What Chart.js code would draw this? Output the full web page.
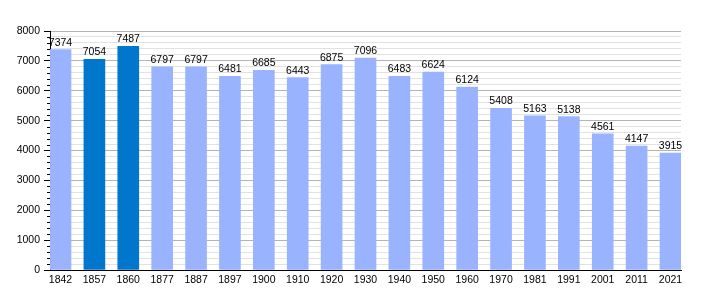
<!DOCTYPE html>
<html>
<head>
  <title>Population</title>
  <script src="https://cdn.jsdelivr.net/npm/chart.js@4"></script>
  <style>
    body {
      margin: 0;
      background: #fff;
    }
  </style>
</head>
<body>
  <canvas id="chart" width="710" height="300"></canvas>

  <script>
    const years = ['1842', '1857', '1860', '1877', '1887', '1897', '1900', '1910', '1920', '1930',
                   '1940', '1950', '1960', '1970', '1981', '1991', '2001', '2011', '2021'];
    const population = [7374, 7054, 7487, 6797, 6797, 6481, 6685, 6443, 6875, 7096,
                        6483, 6624, 6124, 5408, 5163, 5138, 4561, 4147, 3915];
    const highlighted = ['1857', '1860'];
    const yMax = 8000;
    const majorStep = 1000;
    const minorStep = 200;

    const lightBar = '#99b3ff';
    const darkBar = '#0077cc';

    // value written above each bar
    const valueLabels = {
      id: 'valueLabels',
      afterDatasetsDraw(chart) {
        const ctx = chart.ctx;
        const meta = chart.getDatasetMeta(0);
        ctx.save();
        ctx.font = '10.5px "Liberation Sans", Arial, sans-serif';
        ctx.fillStyle = '#000';
        ctx.textAlign = 'center';
        ctx.textBaseline = 'alphabetic';
        meta.data.forEach((bar, i) => {
          ctx.fillText(String(population[i]), bar.x, bar.y - 4);
        });
        ctx.restore();
      }
    };

    // short ticks for the minor steps on the y axis
    const minorTicks = {
      id: 'minorTicks',
      afterDraw(chart) {
        const ctx = chart.ctx;
        const y = chart.scales.y;
        ctx.save();
        ctx.strokeStyle = '#000';
        ctx.lineWidth = 1;
        for (let v = 0; v <= yMax; v += minorStep) {
          if (v % majorStep === 0) continue;
          const py = Math.round(y.getPixelForValue(v)) + 0.5;
          ctx.beginPath();
          ctx.moveTo(y.right - 3, py);
          ctx.lineTo(y.right, py);
          ctx.stroke();
        }
        ctx.restore();
      }
    };

    new Chart(document.getElementById('chart'), {
      type: 'bar',
      data: {
        datasets: [{
          data: population.map((v, i) => ({ x: i, y: v })),
          backgroundColor: years.map((yr) => highlighted.includes(yr) ? darkBar : lightBar),
          barThickness: 21,
          borderWidth: 0
        }]
      },
      options: {
        responsive: false,
        animation: false,
        layout: {
          padding: { top: 31, right: 29, left: 0, bottom: 0 }
        },
        plugins: {
          legend: { display: false },
          tooltip: { enabled: false }
        },
        scales: {
          x: {
            type: 'linear',
            offset: false,
            min: -0.31,
            max: years.length - 1 + 0.31,
            afterBuildTicks: (axis) => {
              axis.ticks = years.map((yr, i) => ({ value: i }));
            },
            afterFit: (axis) => { axis.height = 30; },
            grid: { display: false, drawTicks: false },
            border: { display: true, color: '#000', width: 1 },
            ticks: {
              color: '#000',
              padding: 4,
              maxRotation: 0,
              autoSkip: false,
              font: { family: '"Liberation Sans", Arial, sans-serif', size: 10.5 },
              callback: (value) => years[value]
            }
          },
          y: {
            min: 0,
            max: yMax,
            afterFit: (axis) => { axis.width = 50; },
            border: { display: true, color: '#000', width: 1 },
            grid: {
              color: (c) => c.tick.value % majorStep === 0 ? '#b4b4b4' : '#e2e2e2',
              tickColor: (c) => c.tick.value % majorStep === 0 ? '#000' : 'rgba(0,0,0,0)',
              tickLength: 6
            },
            ticks: {
              stepSize: minorStep,
              autoSkip: false,
              color: '#000',
              padding: 4,
              font: { family: '"Liberation Sans", Arial, sans-serif', size: 10.5 },
              callback: (value) => value % majorStep === 0 ? String(value) : ''
            }
          }
        }
      },
      plugins: [valueLabels, minorTicks]
    });
  </script>
</body>
</html>
